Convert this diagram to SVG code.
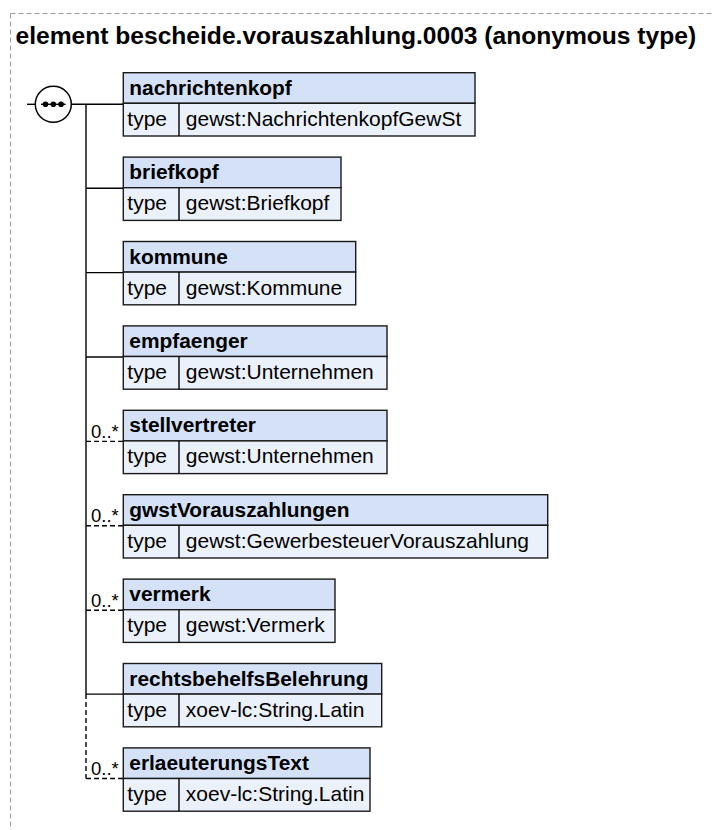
<svg xmlns="http://www.w3.org/2000/svg" width="713" height="830" viewBox="0 0 713 830">
<style>
  .frame { fill: none; stroke: #9a9a9a; stroke-width: 1; stroke-dasharray: 5 3; }
  .title { font-family: "Liberation Sans", Arial, sans-serif; font-weight: bold; font-size: 24.6px; fill: #000; }
  .hdr { fill: #d4e1f7; stroke: #1a1a1a; stroke-width: 1.4; }
  .row { fill: #ebf1fb; stroke: #1a1a1a; stroke-width: 1.4; }
  .name { font-family: "Liberation Sans", Arial, sans-serif; font-weight: bold; font-size: 20.9px; fill: #000; }
  .txt { font-family: "Liberation Sans", Arial, sans-serif; font-size: 21px; fill: #000; }
  .card { font-family: "Liberation Sans", Arial, sans-serif; font-size: 18.5px; fill: #000; }
  .line { fill: none; stroke: #000; stroke-width: 1.4; }
  .dash { fill: none; stroke: #000; stroke-width: 1.4; stroke-dasharray: 5 3; }
</style>

<g id="frame">
  <path class="frame" d="M10.5 13.5 H713 M10.5 13.5 V830"/>
  <text class="title" x="15.5" y="44">element bescheide.vorauszahlung.0003 (anonymous type)</text>
</g>

<g id="sequence">
  <circle cx="53.3" cy="104.3" r="18" fill="#fff" stroke="#000" stroke-width="1.5"/>
  <line x1="41" y1="104.3" x2="65.6" y2="104.3" stroke="#000" stroke-width="1.4"/>
  <circle cx="45.5" cy="104.3" r="2.8" fill="#000"/>
  <circle cx="53.3" cy="104.3" r="2.8" fill="#000"/>
  <circle cx="61.1" cy="104.3" r="2.8" fill="#000"/>
</g>

<g id="connectors">
  <line class="line" x1="27" y1="104.3" x2="35.3" y2="104.3"/>
  <line class="line" x1="71.3" y1="104.3" x2="123.3" y2="104.3"/>
  <line class="line" x1="86" y1="104.3" x2="86" y2="694.1"/>
  <line class="dash" x1="86" y1="694.1" x2="86" y2="778.5"/>
  <line class="line" x1="86" y1="188.2" x2="123.3" y2="188.2"/>
  <line class="line" x1="86" y1="272.6" x2="123.3" y2="272.6"/>
  <line class="line" x1="86" y1="357" x2="123.3" y2="357"/>
  <line class="dash" x1="86" y1="441.4" x2="123.3" y2="441.4"/>
  <line class="dash" x1="86" y1="525.8" x2="123.3" y2="525.8"/>
  <line class="dash" x1="86" y1="610.2" x2="123.3" y2="610.2"/>
  <line class="line" x1="86" y1="694.1" x2="123.3" y2="694.1"/>
  <line class="dash" x1="86" y1="778.5" x2="123.3" y2="778.5"/>
  <text class="card" x="91" y="438">0..*</text>
  <text class="card" x="91" y="522.4">0..*</text>
  <text class="card" x="91" y="606.8">0..*</text>
  <text class="card" x="91" y="775.1">0..*</text>
</g>

<g id="nachrichtenkopf" transform="translate(123.3 72.7)">
  <rect class="hdr" x="0" y="0" width="351.7" height="30.6"/>
  <rect class="row" x="0" y="30.6" width="351.7" height="32.7"/>
  <line class="line" x1="55.7" y1="30.6" x2="55.7" y2="63.3"/>
  <text class="name" x="6" y="22">nachrichtenkopf</text>
  <text class="txt" x="4" y="53">type</text>
  <text class="txt" x="62.5" y="53">gewst:NachrichtenkopfGewSt</text>
</g>

<g id="briefkopf" transform="translate(123.3 157.1)">
  <rect class="hdr" x="0" y="0" width="217.7" height="30.6"/>
  <rect class="row" x="0" y="30.6" width="217.7" height="32.7"/>
  <line class="line" x1="55.7" y1="30.6" x2="55.7" y2="63.3"/>
  <text class="name" x="6" y="22">briefkopf</text>
  <text class="txt" x="4" y="53">type</text>
  <text class="txt" x="62.5" y="53">gewst:Briefkopf</text>
</g>

<g id="kommune" transform="translate(123.3 241.5)">
  <rect class="hdr" x="0" y="0" width="232.4" height="30.6"/>
  <rect class="row" x="0" y="30.6" width="232.4" height="32.7"/>
  <line class="line" x1="55.7" y1="30.6" x2="55.7" y2="63.3"/>
  <text class="name" x="6" y="22">kommune</text>
  <text class="txt" x="4" y="53">type</text>
  <text class="txt" x="62.5" y="53">gewst:Kommune</text>
</g>

<g id="empfaenger" transform="translate(123.3 325.9)">
  <rect class="hdr" x="0" y="0" width="263.7" height="30.6"/>
  <rect class="row" x="0" y="30.6" width="263.7" height="32.7"/>
  <line class="line" x1="55.7" y1="30.6" x2="55.7" y2="63.3"/>
  <text class="name" x="6" y="22">empfaenger</text>
  <text class="txt" x="4" y="53">type</text>
  <text class="txt" x="62.5" y="53">gewst:Unternehmen</text>
</g>

<g id="stellvertreter" transform="translate(123.3 410.3)">
  <rect class="hdr" x="0" y="0" width="263.7" height="30.6"/>
  <rect class="row" x="0" y="30.6" width="263.7" height="32.7"/>
  <line class="line" x1="55.7" y1="30.6" x2="55.7" y2="63.3"/>
  <text class="name" x="6" y="22">stellvertreter</text>
  <text class="txt" x="4" y="53">type</text>
  <text class="txt" x="62.5" y="53">gewst:Unternehmen</text>
</g>

<g id="gwstVorauszahlungen" transform="translate(123.3 494.7)">
  <rect class="hdr" x="0" y="0" width="424.4" height="30.6"/>
  <rect class="row" x="0" y="30.6" width="424.4" height="32.7"/>
  <line class="line" x1="55.7" y1="30.6" x2="55.7" y2="63.3"/>
  <text class="name" x="6" y="22">gwstVorauszahlungen</text>
  <text class="txt" x="4" y="53">type</text>
  <text class="txt" x="62.5" y="53">gewst:GewerbesteuerVorauszahlung</text>
</g>

<g id="vermerk" transform="translate(123.3 579.1)">
  <rect class="hdr" x="0" y="0" width="211.7" height="30.6"/>
  <rect class="row" x="0" y="30.6" width="211.7" height="32.7"/>
  <line class="line" x1="55.7" y1="30.6" x2="55.7" y2="63.3"/>
  <text class="name" x="6" y="22">vermerk</text>
  <text class="txt" x="4" y="53">type</text>
  <text class="txt" x="62.5" y="53">gewst:Vermerk</text>
</g>

<g id="rechtsbehelfsBelehrung" transform="translate(123.3 663.5)">
  <rect class="hdr" x="0" y="0" width="258.4" height="30.6"/>
  <rect class="row" x="0" y="30.6" width="258.4" height="32.7"/>
  <line class="line" x1="55.7" y1="30.6" x2="55.7" y2="63.3"/>
  <text class="name" x="6" y="22">rechtsbehelfsBelehrung</text>
  <text class="txt" x="4" y="53">type</text>
  <text class="txt" x="62.5" y="53">xoev-lc:String.Latin</text>
</g>

<g id="erlaeuterungsText" transform="translate(123.3 747.9)">
  <rect class="hdr" x="0" y="0" width="246.7" height="30.6"/>
  <rect class="row" x="0" y="30.6" width="246.7" height="32.7"/>
  <line class="line" x1="55.7" y1="30.6" x2="55.7" y2="63.3"/>
  <text class="name" x="6" y="22">erlaeuterungsText</text>
  <text class="txt" x="4" y="53">type</text>
  <text class="txt" x="62.5" y="53">xoev-lc:String.Latin</text>
</g>
</svg>
